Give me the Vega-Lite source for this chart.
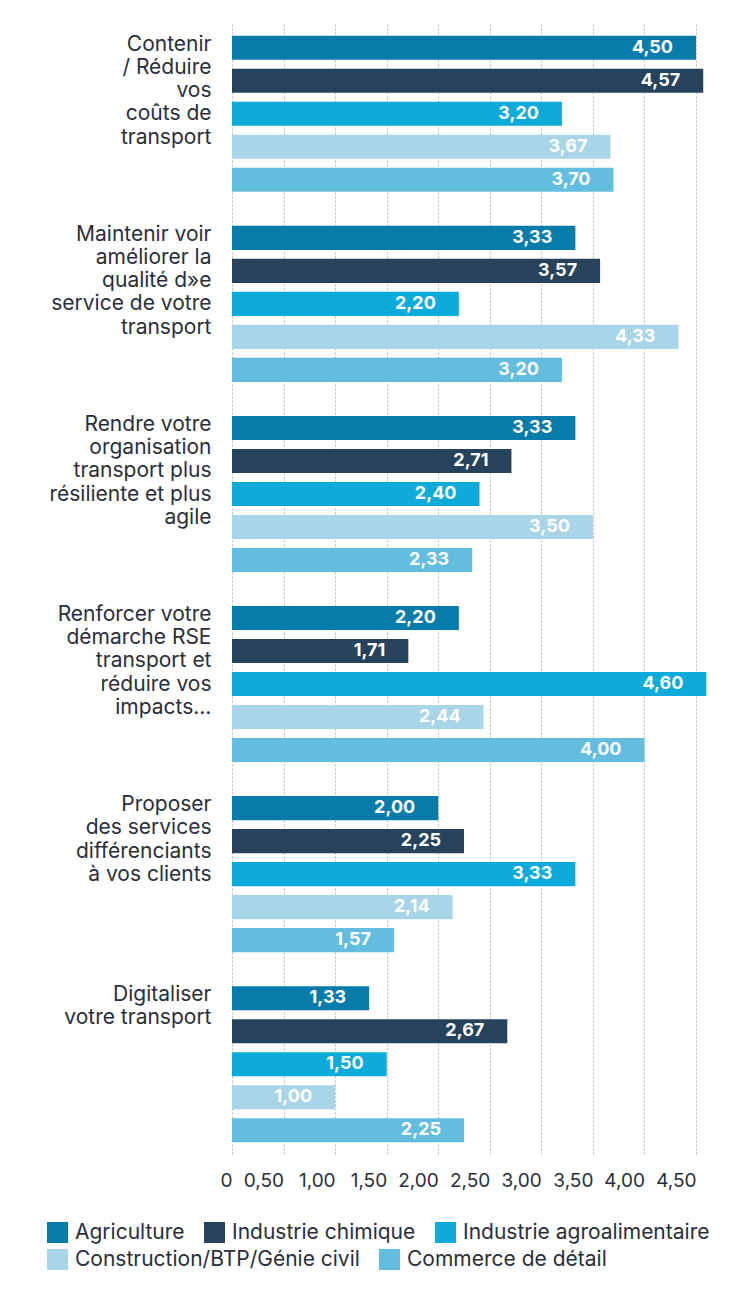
{
  "$schema": "https://vega.github.io/schema/vega-lite/v6.json",
  "width": 464,
  "height": 1130,
  "autosize": {"type": "none"},
  "padding": {"left": 232, "top": 24, "right": 59, "bottom": 138},
  "background": "white",
  "config": {
    "locale": {"number": {"decimal": ",", "thousands": " ", "grouping": [3], "currency": ["", " €"]}},
    "view": {"stroke": null},
    "font": "Inter",
    "legend": {
      "title": null,
      "orient": "none",
      "direction": "horizontal",
      "symbolType": "square",
      "symbolSize": 441,
      "symbolStrokeWidth": 0,
      "symbolOpacity": 1,
      "labelFontSize": 21,
      "labelColor": "#2b2e38",
      "labelOffset": 7,
      "columnPadding": 19,
      "labelLimit": 400,
      "padding": 0
    }
  },
  "data": {
    "values": [
      {"objectif": "Contenir\n/ Réduire\nvos\ncoûts de\ntransport", "secteur": "Agriculture", "valeur": 4.50},
      {"objectif": "Contenir\n/ Réduire\nvos\ncoûts de\ntransport", "secteur": "Industrie chimique", "valeur": 4.57},
      {"objectif": "Contenir\n/ Réduire\nvos\ncoûts de\ntransport", "secteur": "Industrie agroalimentaire", "valeur": 3.20},
      {"objectif": "Contenir\n/ Réduire\nvos\ncoûts de\ntransport", "secteur": "Construction/BTP/Génie civil", "valeur": 3.67},
      {"objectif": "Contenir\n/ Réduire\nvos\ncoûts de\ntransport", "secteur": "Commerce de détail", "valeur": 3.70},
      {"objectif": "Maintenir voir\naméliorer la\nqualité d»e\nservice de votre\ntransport", "secteur": "Agriculture", "valeur": 3.33},
      {"objectif": "Maintenir voir\naméliorer la\nqualité d»e\nservice de votre\ntransport", "secteur": "Industrie chimique", "valeur": 3.57},
      {"objectif": "Maintenir voir\naméliorer la\nqualité d»e\nservice de votre\ntransport", "secteur": "Industrie agroalimentaire", "valeur": 2.20},
      {"objectif": "Maintenir voir\naméliorer la\nqualité d»e\nservice de votre\ntransport", "secteur": "Construction/BTP/Génie civil", "valeur": 4.33},
      {"objectif": "Maintenir voir\naméliorer la\nqualité d»e\nservice de votre\ntransport", "secteur": "Commerce de détail", "valeur": 3.20},
      {"objectif": "Rendre votre\norganisation\ntransport plus\nrésiliente et plus\nagile", "secteur": "Agriculture", "valeur": 3.33},
      {"objectif": "Rendre votre\norganisation\ntransport plus\nrésiliente et plus\nagile", "secteur": "Industrie chimique", "valeur": 2.71},
      {"objectif": "Rendre votre\norganisation\ntransport plus\nrésiliente et plus\nagile", "secteur": "Industrie agroalimentaire", "valeur": 2.40},
      {"objectif": "Rendre votre\norganisation\ntransport plus\nrésiliente et plus\nagile", "secteur": "Construction/BTP/Génie civil", "valeur": 3.50},
      {"objectif": "Rendre votre\norganisation\ntransport plus\nrésiliente et plus\nagile", "secteur": "Commerce de détail", "valeur": 2.33},
      {"objectif": "Renforcer votre\ndémarche RSE\ntransport et\nréduire vos\nimpacts…", "secteur": "Agriculture", "valeur": 2.20},
      {"objectif": "Renforcer votre\ndémarche RSE\ntransport et\nréduire vos\nimpacts…", "secteur": "Industrie chimique", "valeur": 1.71},
      {"objectif": "Renforcer votre\ndémarche RSE\ntransport et\nréduire vos\nimpacts…", "secteur": "Industrie agroalimentaire", "valeur": 4.60},
      {"objectif": "Renforcer votre\ndémarche RSE\ntransport et\nréduire vos\nimpacts…", "secteur": "Construction/BTP/Génie civil", "valeur": 2.44},
      {"objectif": "Renforcer votre\ndémarche RSE\ntransport et\nréduire vos\nimpacts…", "secteur": "Commerce de détail", "valeur": 4.00},
      {"objectif": "Proposer\ndes services\ndifférenciants\nà vos clients", "secteur": "Agriculture", "valeur": 2.00},
      {"objectif": "Proposer\ndes services\ndifférenciants\nà vos clients", "secteur": "Industrie chimique", "valeur": 2.25},
      {"objectif": "Proposer\ndes services\ndifférenciants\nà vos clients", "secteur": "Industrie agroalimentaire", "valeur": 3.33},
      {"objectif": "Proposer\ndes services\ndifférenciants\nà vos clients", "secteur": "Construction/BTP/Génie civil", "valeur": 2.14},
      {"objectif": "Proposer\ndes services\ndifférenciants\nà vos clients", "secteur": "Commerce de détail", "valeur": 1.57},
      {"objectif": "Digitaliser\nvotre transport", "secteur": "Agriculture", "valeur": 1.33},
      {"objectif": "Digitaliser\nvotre transport", "secteur": "Industrie chimique", "valeur": 2.67},
      {"objectif": "Digitaliser\nvotre transport", "secteur": "Industrie agroalimentaire", "valeur": 1.50},
      {"objectif": "Digitaliser\nvotre transport", "secteur": "Construction/BTP/Génie civil", "valeur": 1.00},
      {"objectif": "Digitaliser\nvotre transport", "secteur": "Commerce de détail", "valeur": 2.25}
    ]
  },
  "encoding": {
    "y": {
      "field": "objectif",
      "type": "nominal",
      "sort": null,
      "scale": {"paddingInner": 0.179, "paddingOuter": 0.062},
      "axis": {
        "title": null,
        "domain": false,
        "ticks": false,
        "labelPadding": 21,
        "labelFontSize": 21,
        "labelColor": "#2b2e38",
        "labelAlign": "right",
        "labelBaseline": "top",
        "labelOffset": -80,
        "labelLineHeight": 23.2,
        "labelLimit": 300,
        "labelExpr": "split(datum.label, '\\n')"
      }
    },
    "yOffset": {
      "field": "secteur",
      "type": "nominal",
      "sort": ["Agriculture", "Industrie chimique", "Industrie agroalimentaire", "Construction/BTP/Génie civil", "Commerce de détail"],
      "scale": {
        "domain": ["Agriculture", "Industrie chimique", "Industrie agroalimentaire", "Construction/BTP/Génie civil", "Commerce de détail"],
        "paddingInner": 0.27,
        "paddingOuter": 0
      }
    },
    "x": {
      "field": "valeur",
      "type": "quantitative",
      "scale": {"domain": [0, 4.5], "nice": false},
      "axis": {
        "title": null,
        "values": [0, 0.5, 1, 1.5, 2, 2.5, 3, 3.5, 4, 4.5],
        "format": ".2f",
        "labelExpr": "datum.value === 0 ? '0' : datum.label",
        "domain": false,
        "ticks": false,
        "grid": true,
        "gridColor": "#b8b8b8",
        "gridDash": [2, 2],
        "gridWidth": 1,
        "labelAlign": "right",
        "labelBaseline": "top",
        "labelFontSize": 19,
        "labelPadding": 17,
        "labelColor": "#2b2e38",
        "labelFlush": false,
        "labelOverlap": false
      }
    }
  },
  "layer": [
    {
      "transform": [{"filter": {"field": "secteur", "oneOf": ["Agriculture", "Industrie chimique", "Industrie agroalimentaire"]}}],
      "mark": {"type": "bar"},
      "encoding": {
        "color": {
          "field": "secteur",
          "type": "nominal",
          "sort": null,
          "scale": {
            "domain": ["Agriculture", "Industrie chimique", "Industrie agroalimentaire"],
            "range": ["#077ba9", "#26435b", "#0dabd9"]
          },
          "legend": {"legendX": -185, "legendY": 1198}
        }
      }
    },
    {
      "transform": [{"filter": {"field": "secteur", "oneOf": ["Construction/BTP/Génie civil", "Commerce de détail"]}}],
      "mark": {"type": "bar"},
      "encoding": {
        "color": {
          "field": "secteur",
          "type": "nominal",
          "sort": null,
          "scale": {
            "domain": ["Construction/BTP/Génie civil", "Commerce de détail"],
            "range": ["#a9d5e8", "#63bddf"]
          },
          "legend": {"legendX": -185, "legendY": 1225}
        }
      }
    },
    {
      "mark": {"type": "text", "align": "right", "baseline": "middle", "dx": -23, "color": "white", "fontWeight": "bold", "fontSize": 18},
      "encoding": {
        "text": {"field": "valeur", "type": "quantitative", "format": ".2f"}
      }
    }
  ],
  "resolve": {"scale": {"color": "independent"}, "legend": {"color": "independent"}}
}
